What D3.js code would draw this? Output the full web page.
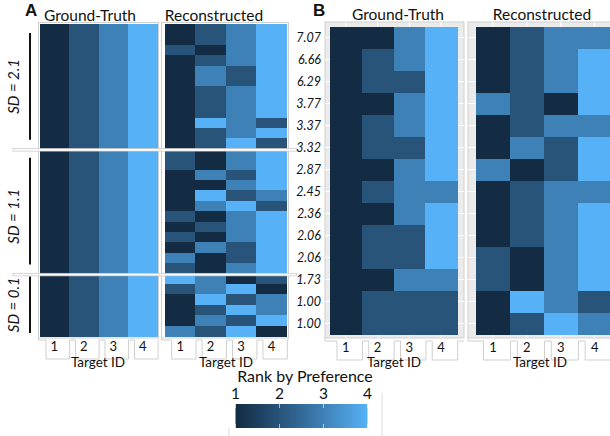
<!DOCTYPE html>
<html>
<head>
<meta charset="utf-8">
<script src="https://cdn.jsdelivr.net/npm/d3@7"></script>
<style>
  body { margin: 0; background: #fff; }
  text { font-family: Lato, "Open Sans", sans-serif; fill: #111; }
</style>
</head>
<body>
<svg id="chart" width="610" height="436"></svg>
<script>
// target ids on the x axis
const targetIds = [1, 2, 3, 4];

// panel A: three SD groups, rows top to bottom
const sdGroups = ["SD = 2.1", "SD = 1.1", "SD = 0.1"];
const sdGroupRows = [12, 12, 6];

const truthA = [
  [1,2,3,4],[1,2,3,4],[1,2,3,4],[1,2,3,4],[1,2,3,4],[1,2,3,4],
  [1,2,3,4],[1,2,3,4],[1,2,3,4],[1,2,3,4],[1,2,3,4],[1,2,3,4],
  [1,2,3,4],[1,2,3,4],[1,2,3,4],[1,2,3,4],[1,2,3,4],[1,2,3,4],
  [1,2,3,4],[1,2,3,4],[1,2,3,4],[1,2,3,4],[1,2,3,4],[1,2,3,4],
  [1,2,3,4],[1,2,3,4],[1,2,3,4],[1,2,3,4],[1,2,3,4],[1,2,3,4]
];

const reconA = [
  // SD = 2.1
  [1,2,3,4],[1,2,3,4],[2,1,3,4],[1,2,3,4],[1,3,2,4],[1,3,2,4],
  [1,2,3,4],[1,2,3,4],[1,2,3,4],[1,4,3,2],[1,2,3,4],[1,2,4,2],
  // SD = 1.1
  [2,1,3,4],[2,1,3,4],[1,3,2,4],[1,1,3,4],[1,4,2,3],[1,3,4,2],
  [2,1,3,4],[1,2,3,4],[2,1,3,4],[1,3,2,4],[3,1,2,4],[2,1,3,4],
  // SD = 0.1
  [4,3,1,2],[2,3,4,1],[1,4,2,3],[1,2,4,3],[1,3,2,4],[3,2,4,1]
];

// panel B: row labels (SD) and ranks
const sdLabelsB = ["7.07","6.66","6.29","3.77","3.37","3.32","2.87",
                   "2.45","2.36","2.06","2.06","1.73","1.00","1.00"];

const truthB = [
  [1,1,3,4],[1,2,3,4],[1,2,2,4],[1,1,3,4],[1,2,3,4],[1,2,2,4],[1,1,3,4],
  [1,2,3,3],[1,1,3,4],[1,2,2,4],[1,2,2,4],[1,1,3,3],[1,2,2,2],[1,2,2,2]
];

const reconB = [
  [1,2,3,3],[1,2,3,4],[1,2,3,4],[3,2,1,4],[1,2,3,3],[1,3,2,4],[3,1,2,4],
  [1,2,3,3],[1,2,3,4],[1,2,3,4],[2,1,3,4],[2,1,3,4],[1,4,3,2],[1,2,4,3]
];

const legendTicks = [1, 2, 3, 4];

const svg = d3.select("#chart");
const color = d3.scaleLinear().domain([1, 4])
  .range(["#132B43", "#56B1F7"]).interpolate(d3.interpolateLab);
const frameCol = "#cfcfcf";

// draws one heatmap, returns its scales
function heatmap(data, x0, x1, y0, y1) {
  const x = d3.scaleBand().domain(targetIds).range([x0, x1]);
  const y = d3.scaleBand().domain(d3.range(data.length)).range([y0, y1]);
  const cells = data.flatMap((row, i) => row.map((v, j) => ({ i, t: targetIds[j], v })));
  svg.append("g").attr("shape-rendering", "crispEdges")
    .selectAll("rect").data(cells).join("rect")
    .attr("x", d => x(d.t))
    .attr("y", d => y(d.i))
    .attr("width", x.bandwidth() + 0.6)
    .attr("height", y.bandwidth() + 0.6)
    .attr("fill", d => color(d.v));
  return { x, y };
}

// label tabs hanging under a heatmap + "Target ID"
function tabs(x, left, right, top, titleX) {
  const bw = x.bandwidth();
  let p = `M${left},${top - 3}V${top}`;
  targetIds.forEach(t => {
    const cx = x(t) + bw / 2;
    p += `H${cx - bw * 0.28}V${top + 19}H${cx + bw * 0.52}V${top}`;
  });
  p += `H${right}`;
  svg.append("path").attr("d", p).attr("fill", "none")
    .attr("stroke", frameCol).attr("stroke-width", 1);
  svg.append("g").selectAll("text").data(targetIds).join("text")
    .attr("x", d => x(d) + bw / 2)
    .attr("y", top + 11)
    .attr("text-anchor", "middle")
    .attr("font-size", 13)
    .text(d => d);
  svg.append("text").attr("x", titleX).attr("y", 367)
    .attr("text-anchor", "middle").attr("font-size", 13.5).text("Target ID");
}

// gray plot background with grid (panel B)
function greyPanel(x, y, nRows, bx0, bx1, by0, by1) {
  svg.append("rect").attr("x", bx0).attr("y", by0)
    .attr("width", bx1 - bx0).attr("height", by1 - by0)
    .attr("fill", "#ebebeb").attr("stroke", frameCol);
  const g = svg.append("g").attr("stroke", "#fff");
  g.selectAll(".vx").data(targetIds).join("line")
    .attr("x1", d => x(d) + x.bandwidth() / 2).attr("x2", d => x(d) + x.bandwidth() / 2)
    .attr("y1", by0).attr("y2", by1).attr("stroke-width", 1);
  g.selectAll(".hy").data(d3.range(nRows)).join("line")
    .attr("y1", d => y(d) + y.bandwidth() / 2).attr("y2", d => y(d) + y.bandwidth() / 2)
    .attr("x1", bx0).attr("x2", bx1).attr("stroke-width", 1);
}

// ---------- Panel A ----------
svg.append("rect").attr("x", 38.5).attr("y", 22.5).attr("width", 120).attr("height", 315.5)
  .attr("fill", "#fff").attr("stroke", frameCol);
svg.append("rect").attr("x", 161.5).attr("y", 22.5).attr("width", 127).attr("height", 315.5)
  .attr("fill", "#fff").attr("stroke", frameCol);

const gtA = heatmap(truthA, 39.5, 157.5, 24, 336);
const rcA = heatmap(reconA, 165, 286.7, 24, 336);

tabs(gtA.x, 38.5, 158.5, 340, 98);
tabs(rcA.x, 161.5, 288.5, 340, 226);

svg.append("text").attr("x", 90).attr("y", 21).attr("text-anchor", "middle")
  .attr("font-size", 15.5).text("Ground-Truth");
svg.append("text").attr("x", 214).attr("y", 21).attr("text-anchor", "middle")
  .attr("font-size", 15.5).text("Reconstructed");
svg.append("text").attr("x", 25).attr("y", 16).attr("font-size", 17)
  .attr("font-weight", "bold").style("font-family", "'Liberation Sans', Arial, sans-serif").text("A");

// SD group brackets and labels
let rowStart = 0;
const sepYs = [];
sdGroups.forEach((lab, k) => {
  const n = sdGroupRows[k];
  const top = gtA.y(rowStart), bot = gtA.y(rowStart + n - 1) + gtA.y.bandwidth();
  const pad = k === 2 ? 3 : 9;
  svg.append("line").attr("x1", 30).attr("x2", 30)
    .attr("y1", top + pad).attr("y2", bot - pad)
    .attr("stroke", "#111").attr("stroke-width", 2);
  const cy = (top + bot) / 2 + (k === 1 ? 5 : 0);
  svg.append("text")
    .attr("transform", `translate(19,${cy}) rotate(-90)`)
    .attr("text-anchor", "middle").attr("font-size", 15)
    .attr("font-style", "italic").text(lab);
  if (k > 0) sepYs.push(top);
  rowStart += n;
});

// group separators
svg.append("g").selectAll("rect").data(sepYs).join("rect")
  .attr("x", 13).attr("y", d => d - 0.3).attr("width", 284).attr("height", 2.6)
  .attr("fill", "#fff").attr("stroke", "#c4c4c4").attr("stroke-width", 0.7);

// ---------- Panel B ----------
const gtBx = d3.scaleBand().domain(targetIds).range([330, 457]);
const rcBx = d3.scaleBand().domain(targetIds).range([476, 611.6]);
const yB = d3.scaleBand().domain(d3.range(truthB.length)).range([26.7, 334.5]);

greyPanel(gtBx, yB, truthB.length, 325, 464, 22, 338);
greyPanel(rcBx, yB, reconB.length, 468, 616, 22, 338);

const gtB = heatmap(truthB, 330, 457, 26.7, 334.5);
const rcB = heatmap(reconB, 476, 611.6, 26.7, 334.5);

svg.append("g").selectAll("text").data(sdLabelsB).join("text")
  .attr("x", 321).attr("y", (d, i) => yB(i) + yB.bandwidth() / 2 + 4.5)
  .attr("text-anchor", "end").attr("font-size", 12.5)
  .attr("font-style", "italic").text(d => d);

tabs(gtB.x, 325, 464, 341, 394);
tabs(rcB.x, 468, 616, 341, 540);

svg.append("text").attr("x", 398).attr("y", 20).attr("text-anchor", "middle")
  .attr("font-size", 15.5).text("Ground-Truth");
svg.append("text").attr("x", 542).attr("y", 20).attr("text-anchor", "middle")
  .attr("font-size", 15.5).text("Reconstructed");
svg.append("text").attr("x", 313).attr("y", 16).attr("font-size", 17)
  .attr("font-weight", "bold").style("font-family", "'Liberation Sans', Arial, sans-serif").text("B");

// ---------- Legend ----------
const lx = d3.scaleLinear().domain([1, 4]).range([235.5, 367.5]);
const defs = svg.append("defs");
const grad = defs.append("linearGradient").attr("id", "rankGrad");
d3.range(0, 1.01, 0.1).forEach(o => {
  grad.append("stop").attr("offset", o).attr("stop-color", color(1 + 3 * o));
});
svg.append("line").attr("x1", 382).attr("x2", 382).attr("y1", 393).attr("y2", 436)
  .attr("stroke", "#dcdcdc");
svg.append("line").attr("x1", 229).attr("x2", 229).attr("y1", 428).attr("y2", 436)
  .attr("stroke", "#dcdcdc");
svg.append("text").attr("x", 305).attr("y", 382).attr("text-anchor", "middle")
  .attr("font-size", 16).text("Rank by Preference");
svg.append("rect").attr("x", lx(1)).attr("y", 404)
  .attr("width", lx(4) - lx(1)).attr("height", 24).attr("fill", "url(#rankGrad)");
const lt = svg.append("g");
lt.selectAll("text").data(legendTicks).join("text")
  .attr("x", d => lx(d)).attr("y", 399).attr("text-anchor", "middle")
  .attr("font-size", 15.5).text(d => d);
lt.selectAll(".tt").data(legendTicks).join("line")
  .attr("x1", d => lx(d)).attr("x2", d => lx(d)).attr("y1", 404).attr("y2", 408)
  .attr("stroke", "#fff").attr("stroke-opacity", 0.6);
lt.selectAll(".tb").data(legendTicks).join("line")
  .attr("x1", d => lx(d)).attr("x2", d => lx(d)).attr("y1", 424).attr("y2", 428)
  .attr("stroke", "#fff").attr("stroke-opacity", 0.6);
</script>
</body>
</html>
